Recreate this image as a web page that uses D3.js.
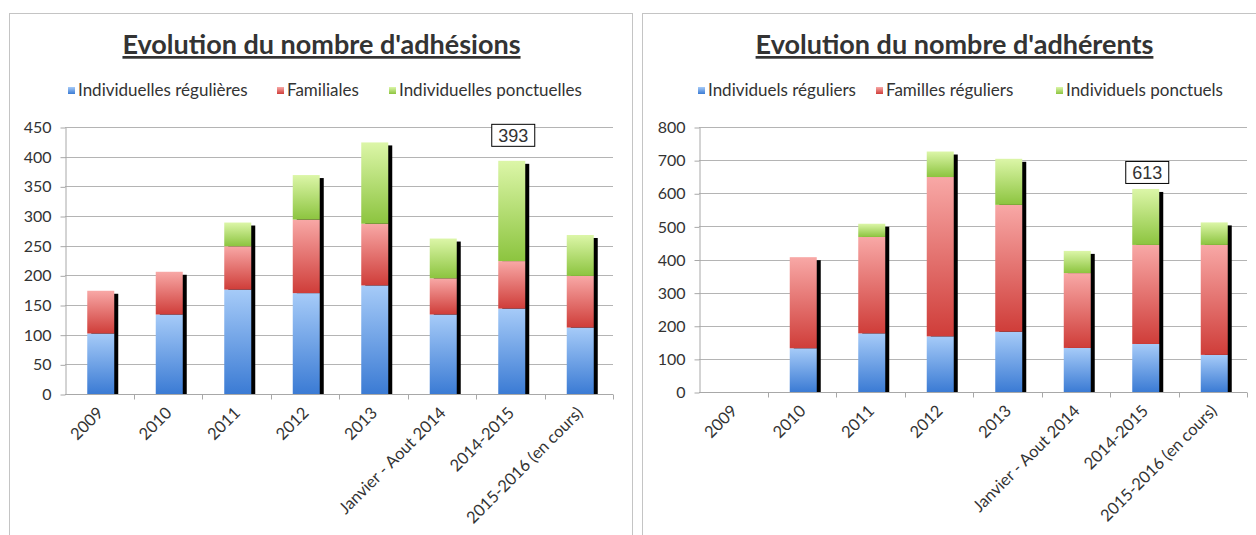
<!DOCTYPE html>
<html>
<head>
<meta charset="utf-8">
<script src="https://cdn.jsdelivr.net/npm/d3@7"></script>
<style>
  body { margin: 0; background: #fff; }
  text { font-family: Lato, "Open Sans", sans-serif; fill: #333; }
</style>
</head>
<body>
<div id="chart"></div>
<script>
// categories shared by both charts
var categories = ["2009", "2010", "2011", "2012", "2013", "Janvier - Aout 2014", "2014-2015", "2015-2016 (en cours)"];

// chart 1 : adhesions
var adhesionsLabels = ["Individuelles régulières", "Familiales", "Individuelles ponctuelles"];
var adhesionsIndividuelles = [102, 134, 176, 170, 183, 134, 144, 112];
var adhesionsFamiliales = [72, 72, 73, 124, 104, 61, 80, 87];
var adhesionsPonctuelles = [0, 0, 40, 75, 137, 67, 169, 69];
var adhesionsTicks = [0, 50, 100, 150, 200, 250, 300, 350, 400, 450];

// chart 2 : adherents
var adherentsLabels = ["Individuels réguliers", "Familles réguliers", "Individuels ponctuels"];
var adherentsIndividuels = [0, 132, 177, 168, 182, 133, 145, 112];
var adherentsFamilles = [0, 275, 291, 481, 383, 226, 299, 332];
var adherentsPonctuels = [0, 0, 40, 77, 139, 67, 169, 68];
var adherentsTicks = [0, 100, 200, 300, 400, 500, 600, 700, 800];

var width = 1256, height = 535;

var svg = d3.select("#chart")
  .append("svg")
  .attr("width", width)
  .attr("height", height);

svg.append("rect").attr("width", width).attr("height", height).attr("fill", "#fff");

// vertical gradients, light on top, dark at bottom (excel style)
var gradients = [
  {id: "g-blue", top: "#a6cbf8", bottom: "#3b7bd4"},
  {id: "g-red", top: "#f8a8a6", bottom: "#cf3d39"},
  {id: "g-green", top: "#dcf6a8", bottom: "#8cc43f"}
];
var defs = svg.append("defs");
gradients.forEach(function(gr) {
  var lg = defs.append("linearGradient")
    .attr("id", gr.id)
    .attr("x1", 0).attr("y1", 0).attr("x2", 0).attr("y2", 1);
  lg.append("stop").attr("offset", "0%").attr("stop-color", gr.top);
  lg.append("stop").attr("offset", "100%").attr("stop-color", gr.bottom);
});

function drawChart(cfg) {
  var g = svg.append("g").attr("transform", "translate(" + cfg.left + ",0)");

  // frame of the chart
  g.append("rect")
    .attr("x", 0.5).attr("y", 13.5)
    .attr("width", 623).attr("height", 540)
    .attr("fill", "none")
    .attr("stroke", "#c4c4c4");

  var x = d3.scaleBand()
    .domain(categories)
    .range([cfg.plotX0, cfg.plotX1]);

  var y = d3.scaleLinear()
    .domain([0, cfg.yTicks[cfg.yTicks.length - 1]])
    .range([cfg.plotY1, cfg.plotY0]);

  // gridlines
  g.append("g")
    .selectAll("line")
    .data(cfg.yTicks.filter(function(t) { return t > 0; }))
    .join("line")
      .attr("x1", cfg.plotX0).attr("x2", cfg.plotX1)
      .attr("y1", function(d) { return Math.round(y(d)) + 0.5; })
      .attr("y2", function(d) { return Math.round(y(d)) + 0.5; })
      .attr("stroke", "#b4b4b4");

  // y axis
  var yAxis = g.append("g")
    .attr("transform", "translate(" + (cfg.plotX0 + 0.5) + ",0.5)")
    .call(d3.axisLeft(y).tickValues(cfg.yTicks).tickSize(5).tickPadding(9).tickSizeOuter(0));
  yAxis.select(".domain").attr("stroke", "#a8a8a8");
  yAxis.selectAll(".tick line").attr("stroke", "#a8a8a8");
  yAxis.selectAll(".tick text")
    .style("font-family", "Lato, sans-serif")
    .style("font-size", "16px")
    .attr("fill", "#333");

  // x axis line and ticks at the band edges
  var y0 = Math.round(y(0)) + 0.5;
  g.append("line")
    .attr("x1", cfg.plotX0).attr("x2", cfg.plotX1)
    .attr("y1", y0).attr("y2", y0)
    .attr("stroke", "#a8a8a8");
  g.append("g")
    .selectAll("line")
    .data(categories)
    .join("line")
      .attr("x1", function(d) { return Math.round(x(d) + x.bandwidth()) + 0.5; })
      .attr("x2", function(d) { return Math.round(x(d) + x.bandwidth()) + 0.5; })
      .attr("y1", y0).attr("y2", y0 + 5)
      .attr("stroke", "#a8a8a8");

  // stacked data
  var table = categories.map(function(c, i) {
    return {cat: c, a: cfg.series[0][i], b: cfg.series[1][i], c: cfg.series[2][i]};
  });
  var stack = d3.stack().keys(["a", "b", "c"]);
  var layers = stack(table);
  var totals = table.map(function(d) { return d.a + d.b + d.c; });

  var bw = Math.round(x.bandwidth() * 0.39);
  var barX = function(c) { return x(c) + (x.bandwidth() - bw) / 2 + 1.5; };

  // black shadow behind bars
  g.append("g")
    .selectAll("rect")
    .data(table.filter(function(d, i) { return totals[i] > 0; }))
    .join("rect")
      .attr("x", function(d) { return barX(d.cat) + 4; })
      .attr("y", function(d) { return y(d.a + d.b + d.c) + 3; })
      .attr("width", bw)
      .attr("height", function(d) { return y(0) - y(d.a + d.b + d.c) - 3; })
      .attr("fill", "#000");

  var fills = ["url(#g-blue)", "url(#g-red)", "url(#g-green)"];
  g.append("g")
    .selectAll("g")
    .data(layers)
    .join("g")
      .attr("fill", function(d, i) { return fills[i]; })
    .selectAll("rect")
    .data(function(d) { return d.filter(function(p) { return p[1] > p[0]; }); })
    .join("rect")
      .attr("x", function(d) { return barX(d.data.cat); })
      .attr("y", function(d) { return y(d[1]); })
      .attr("width", bw)
      .attr("height", function(d) { return y(d[0]) - y(d[1]); });

  // x labels, rotated
  g.append("g")
    .selectAll("text")
    .data(categories)
    .join("text")
      .attr("transform", function(d) {
        return "translate(" + (x(d) + x.bandwidth() / 2 + 5) + "," + (y(0) + 20) + ")rotate(-45)";
      })
      .attr("text-anchor", "end")
      .style("font-size", "16.5px")
      .text(function(d) { return d; });

  // callout with the total
  var ci = cfg.calloutIndex;
  var cx = x(categories[ci]) + x.bandwidth() / 2 + 3;
  var cy = y(totals[ci]) - cfg.calloutGap;
  g.append("rect")
    .attr("x", cx - 21.5).attr("y", cy - 11.5)
    .attr("width", 43).attr("height", 22)
    .attr("fill", "#fff")
    .attr("stroke", "#000");
  g.append("text")
    .attr("x", cx).attr("y", cy + 6.5)
    .attr("text-anchor", "middle")
    .style("font-family", "'Liberation Sans', Arial, sans-serif")
    .style("font-size", "18px")
    .attr("fill", "#000")
    .text(totals[ci]);

  // title
  g.append("text")
    .attr("x", 312.5).attr("y", 54)
    .attr("text-anchor", "middle")
    .style("font-size", "27px")
    .style("font-weight", "bold")
    .style("text-decoration", "underline")
    .attr("fill", "#000")
    .text(cfg.title);

  // legend
  var legend = g.append("g");
  cfg.labels.forEach(function(lab, i) {
    legend.append("rect")
      .attr("x", cfg.legendX[i]).attr("y", 87)
      .attr("width", 7).attr("height", 7)
      .attr("fill", fills[i]);
    legend.append("text")
      .attr("x", cfg.legendX[i] + 10).attr("y", 96)
      .style("font-size", "17px")
      .text(lab);
  });
}

drawChart({
  left: 9,
  title: "Evolution du nombre d'adhésions",
  labels: adhesionsLabels,
  series: [adhesionsIndividuelles, adhesionsFamiliales, adhesionsPonctuelles],
  yTicks: adhesionsTicks,
  plotX0: 56, plotX1: 604, plotY0: 127, plotY1: 394,
  legendX: [59, 268, 380],
  calloutIndex: 6, calloutGap: 25
});

drawChart({
  left: 642,
  title: "Evolution du nombre d'adhérents",
  labels: adherentsLabels,
  series: [adherentsIndividuels, adherentsFamilles, adherentsPonctuels],
  yTicks: adherentsTicks,
  plotX0: 57, plotX1: 605, plotY0: 127, plotY1: 392,
  legendX: [56, 234, 414],
  calloutIndex: 6, calloutGap: 16
});
</script>
</body>
</html>
